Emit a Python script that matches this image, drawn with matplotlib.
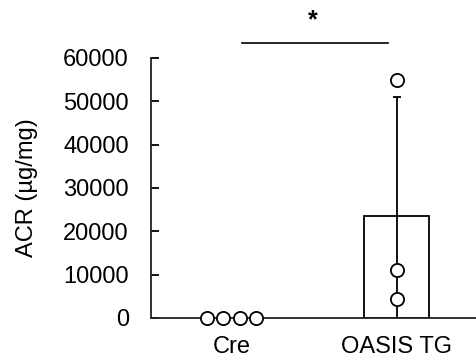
import matplotlib
matplotlib.use("Agg")
import matplotlib.pyplot as plt
import numpy as np

plt.rcParams['font.family'] = ['Liberation Sans', 'DejaVu Sans']

categories = ["Cre", "OASIS TG"]
cre_points = [0, 0, 0, 0]
tg_points = [55000, 11000, 4300]
means = [np.mean(cre_points), np.mean(tg_points)]
sds = [0, np.std(tg_points, ddof=1)]
yticks = [0, 10000, 20000, 30000, 40000, 50000, 60000]

fig = plt.figure(figsize=(4.77, 3.63), dpi=100)
ax = fig.add_axes([151/477, 1-318/363, 1-151/477, 260/363])

x = np.arange(len(categories))
ax.bar(x[1], means[1], width=0.394, color='white', edgecolor='black', linewidth=1.3, zorder=2)
ax.errorbar(x[1], means[1], yerr=sds[1], fmt='none', ecolor='black', elinewidth=1.3,
            capsize=3, capthick=1.3, zorder=3)

cre_offsets = [-0.148, -0.0515, 0.0515, 0.148]
ax.scatter([x[0] + o for o in cre_offsets], cre_points, s=90, facecolor='white',
           edgecolor='black', linewidth=1.3, zorder=4, clip_on=False)
ax.scatter([x[1]] * len(tg_points), tg_points, s=90, facecolor='white',
           edgecolor='black', linewidth=1.3, zorder=4, clip_on=False)

ax.set_xlim(-0.49, 1.485)
ax.set_ylim(0, 60000)
ax.set_yticks(yticks)
ax.set_yticklabels([str(t) for t in yticks])
ax.set_xticks(x)
ax.set_xticklabels(categories)
ax.tick_params(axis='y', direction='in', length=6, width=1.3, labelsize=17, pad=16)
ax.tick_params(axis='x', length=0, labelsize=17, pad=13)
for s in ['top', 'right']:
    ax.spines[s].set_visible(False)
for s in ['left', 'bottom']:
    ax.spines[s].set_linewidth(1.3)
    ax.spines[s].set_color('#222222')
ax.set_ylabel("ACR (µg/mg)", fontsize=17, labelpad=18)

# significance bar
y_sig = 63500
ax.plot([0.06, 0.945], [y_sig, y_sig], color='black', linewidth=1.2, clip_on=False)
ax.text(0.49, 66000, "*", ha='center', va='bottom', fontsize=18, fontweight='bold')

fig.savefig("out.png", dpi=100)
